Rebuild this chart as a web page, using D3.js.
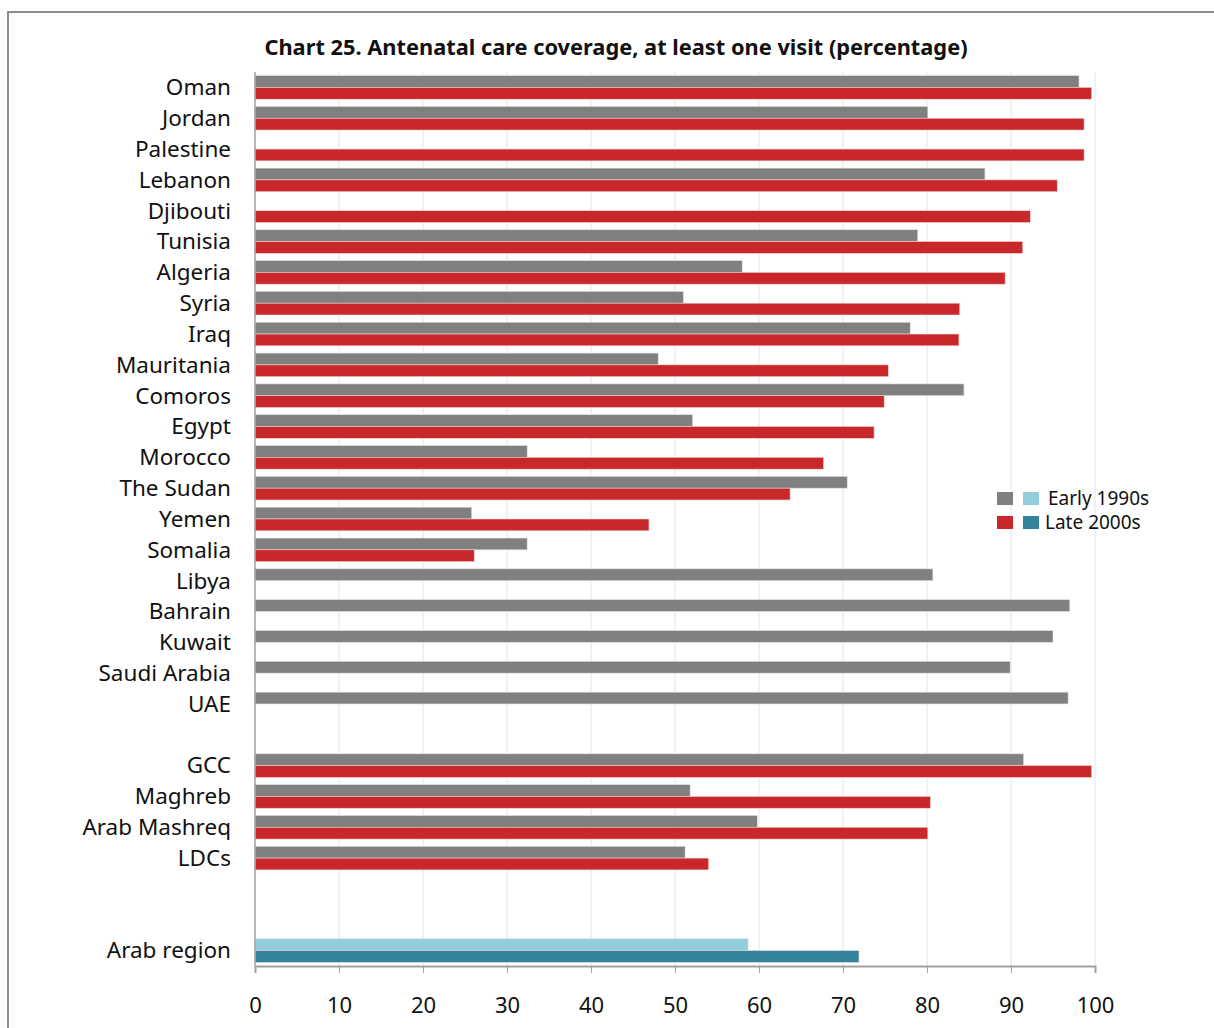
<!DOCTYPE html>
<html><head><meta charset="utf-8">
<script src="https://cdn.jsdelivr.net/npm/d3@7"></script>
<style>
html,body{margin:0;padding:0;background:#fff;}
svg{display:block;font-family:"Noto Sans",sans-serif;}
</style></head>
<body><svg id="chart" width="1214" height="1028"></svg>
<script>
const categories = ["Oman","Jordan","Palestine","Lebanon","Djibouti","Tunisia","Algeria","Syria","Iraq","Mauritania","Comoros","Egypt","Morocco","The Sudan","Yemen","Somalia","Libya","Bahrain","Kuwait","Saudi Arabia","UAE","","GCC","Maghreb","Arab Mashreq","LDCs","","","Arab region"];
const early1990s = [98.1,80.1,null,86.9,null,78.9,58.0,51.0,78.0,48.0,84.4,52.1,32.4,70.5,25.8,32.4,80.7,97.0,95.0,89.9,96.8,null,91.5,51.8,59.8,51.2,null,null,58.7];
const late2000s  = [99.6,98.7,98.7,95.5,92.3,91.4,89.3,83.9,83.8,75.4,74.9,73.7,67.7,63.7,46.9,26.1,null,null,null,null,null,null,99.6,80.4,80.1,54.0,null,null,71.9];
const xTicks = [0,10,20,30,40,50,60,70,80,90,100];
const seriesNames = ["Early 1990s","Late 2000s"];
const title = "Chart 25. Antenatal care coverage, at least one visit (percentage)";

(function(){
const svg = d3.select("#chart");
const pL = 255, pR = 1095, pT = 72, pB = 966;
const ids = categories.map((c,i)=>i);
const x = d3.scaleLinear().domain([0,100]).range([pL,pR]);
const y = d3.scaleBand().domain(ids).range([pT,pB]).paddingInner(0.235).paddingOuter(0.1175);
const bh = y.bandwidth()/2;

svg.append("path").attr("d","M8,1028 L8,12 L1214,12").attr("fill","none").attr("stroke","#8c8c8c").attr("stroke-width",2);

svg.append("g").selectAll("line").data(xTicks.slice(1)).join("line")
  .attr("x1",d=>x(d)).attr("x2",d=>x(d)).attr("y1",pT).attr("y2",pB)
  .attr("stroke","#dce6f2").attr("stroke-width",1);

const colEarly = (i)=> categories[i]==="Arab region" ? "#92cddc" : "#808080";
const colLate  = (i)=> categories[i]==="Arab region" ? "#31849b" : "#c8282a";

const g = svg.append("g");
g.selectAll("rect.e").data(ids.filter(i=>early1990s[i]!=null)).join("rect").attr("class","e")
  .attr("x",x(0)).attr("y",i=>y(i)).attr("width",i=>x(early1990s[i])-x(0)).attr("height",bh)
  .attr("fill",colEarly).attr("stroke","#e0e0e0").attr("stroke-width",0.6);
g.selectAll("rect.l").data(ids.filter(i=>late2000s[i]!=null)).join("rect").attr("class","l")
  .attr("x",x(0)).attr("y",i=>y(i)+bh).attr("width",i=>x(late2000s[i])-x(0)).attr("height",bh)
  .attr("fill",colLate).attr("stroke","#f0d0d0").attr("stroke-width",0.6);

svg.append("line").attr("x1",pL).attr("x2",pL).attr("y1",pT).attr("y2",pB).attr("stroke","#a0a0a0").attr("stroke-width",1.5);

svg.append("g").selectAll("text").data(ids.filter(i=>categories[i]!=="")).join("text")
  .attr("x",231).attr("y",i=>y(i)+y.bandwidth()/2).attr("dy","0.35em")
  .attr("text-anchor","end").attr("font-size",22.5).attr("fill","#111")
  .text(i=>categories[i]);

const xAxis = d3.axisBottom(x).tickValues(xTicks).tickSize(7).tickPadding(24).tickFormat(d3.format("d"));
const ax = svg.append("g").attr("transform",`translate(0,${pB})`).call(xAxis);
ax.select(".domain").attr("stroke","#a0a0a0").attr("stroke-width",2);
ax.selectAll(".tick line").attr("stroke","#a0a0a0");
ax.selectAll(".tick text").attr("font-size",22).attr("fill","#111").attr("font-family","Noto Sans, sans-serif");

svg.append("text").attr("x",616).attr("y",55).attr("text-anchor","middle")
  .attr("font-size",21.8).attr("font-weight","bold").attr("fill","#111").text(title);

const lg = svg.append("g");
const legRows = [{y:499, c1:"#808080", c2:"#92cddc", t:seriesNames[0], tx:1048},{y:523, c1:"#c8282a", c2:"#31849b", t:seriesNames[1], tx:1045}];
legRows.forEach(r=>{
  lg.append("rect").attr("x",997).attr("y",r.y-7).attr("width",16).attr("height",13).attr("fill",r.c1);
  lg.append("rect").attr("x",1023).attr("y",r.y-7).attr("width",16).attr("height",13).attr("fill",r.c2);
  lg.append("text").attr("x",r.tx).attr("y",r.y).attr("dy","0.33em").attr("font-size",19).attr("fill","#111").text(r.t);
});
})();
</script></body></html>
